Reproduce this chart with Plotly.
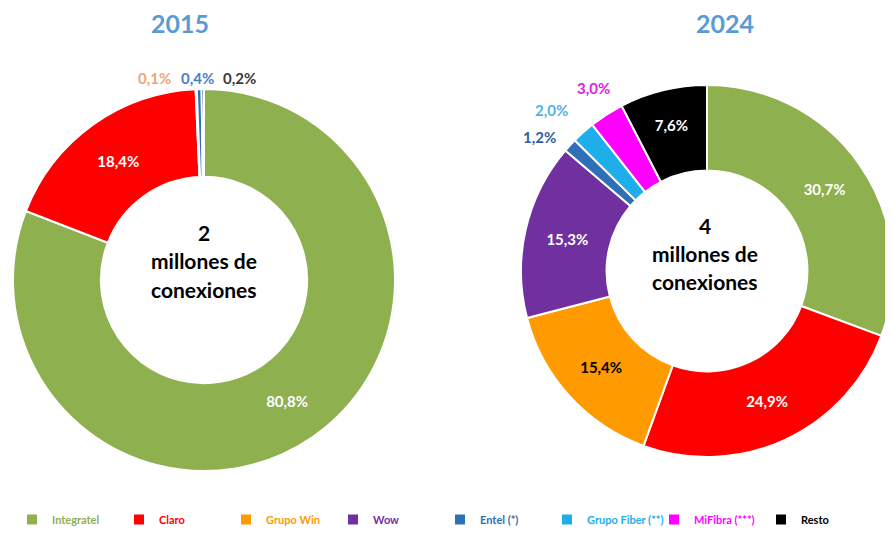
import plotly.graph_objects as go

categories = ["Integratel", "Claro", "Grupo Win", "Wow", "Entel (*)", "Grupo Fiber (**)", "MiFibra (***)", "Resto"]
colors = ["#8EB04F", "#FF0000", "#FF9A00", "#7030A0", "#2E6FB7", "#1EAEEA", "#FF00FF", "#000000"]

cats_2015 = ["Integratel", "Claro", "Grupo Win", "Entel (*)", "Resto"]
vals_2015 = [80.8, 18.4, 0.1, 0.4, 0.2]
vals_2024 = [30.7, 24.9, 15.4, 15.3, 1.2, 2.0, 3.0, 7.6]

years = ["2015", "2024"]
totals = ["2", "4"]
center_lines = ["millones de", "conexiones"]

FONT = "Lato"
W, H = 885, 526  # page body has an 8px margin
cmap = dict(zip(categories, colors))
small_label_colors = {"Grupo Win": "#F2A27A", "Entel (*)": "#4A7EC8", "Resto": "#3A3A3A",
                      "Wow": "#7030A0", "Grupo Fiber (**)": "#4FB3E8", "MiFibra (***)": "#E020E0",
                      "Integratel": "#8EB04F", "Claro": "#FF0000"}
small_label_colors_24 = dict(small_label_colors, **{"Entel (*)": "#2F5F9E"})


def px(x):
    return (x - 8) / W


def py(y):
    return 1 - (y - 8) / H


def lab(c):
    return f"<span style='color:{cmap[c]}'>{c}</span>"


def fmt(v):
    return f"{v:.1f}%".replace(".", ",")


fig = go.Figure()

# 2024 (first so the legend order follows its categories)
pos24 = ["inside" if v >= 5 else "none" for v in vals_2024]
txtcol24 = ["#000000" if c == "Grupo Win" else "#FFFFFF" for c in categories]
fig.add_trace(go.Pie(
    labels=[lab(c) for c in categories], values=vals_2024,
    marker=dict(colors=colors, line=dict(color="white", width=2)),
    hole=0.54, sort=False, direction="clockwise", rotation=0,
    domain=dict(x=[px(521), 1.0], y=[py(457), py(85)]),
    texttemplate="%{value:.1f}%", textposition=pos24,
    insidetextorientation="horizontal",
    insidetextfont=dict(color=txtcol24, size=15, family=FONT, weight="bold"),
    showlegend=True,
))

# 2015
pos15 = ["inside" if v >= 5 else "none" for v in vals_2015]
fig.add_trace(go.Pie(
    labels=[lab(c) for c in cats_2015], values=vals_2015,
    marker=dict(colors=[cmap[c] for c in cats_2015], line=dict(color="white", width=2)),
    hole=0.54, sort=False, direction="clockwise", rotation=0,
    domain=dict(x=[px(13), px(395)], y=[py(471), py(89)]),
    texttemplate="%{value:.1f}%", textposition=pos15,
    insidetextorientation="horizontal",
    insidetextfont=dict(color="white", size=15, family=FONT, weight="bold"),
    showlegend=True,
))

annotations = []
# year titles
for yr, xp in zip(years, [180, 725]):
    annotations.append(dict(text=f"<b>{yr}</b>", x=px(xp), y=py(23), xref="paper", yref="paper",
                            xanchor="center", yanchor="middle", showarrow=False,
                            font=dict(size=25, color="#5B9BD5", family=FONT)))
# center texts
for tot, cx, ys in zip(totals, [204, 705], [[232, 261, 289], [225, 253, 281]]):
    for txt, yy in zip([tot] + center_lines, ys):
        annotations.append(dict(text=f"<b>{txt}</b>", x=px(cx), y=py(yy), xref="paper", yref="paper",
                                xanchor="center", yanchor="middle", showarrow=False,
                                font=dict(size=21, color="#000000", family=FONT)))
# 2015 small-slice labels (side by side above the donut)
small15 = [(c, v) for c, v in zip(cats_2015, vals_2015) if v < 5]
for (c, v), (xx, yy) in zip(small15, [(154, 78), (197, 78), (239, 78)]):
    annotations.append(dict(text=f"<b>{fmt(v)}</b>", x=px(xx), y=py(yy),
                            xref="paper", yref="paper", xanchor="center", yanchor="middle", showarrow=False,
                            font=dict(size=15, color=small_label_colors[c], family=FONT)))
# 2024 small-slice labels
small24 = [(c, v) for c, v in zip(categories, vals_2024) if v < 5]
for (c, v), (xx, yy) in zip(small24, [(539, 137), (551, 110), (593, 88)]):
    annotations.append(dict(text=f"<b>{fmt(v)}</b>", x=px(xx), y=py(yy),
                            xref="paper", yref="paper", xanchor="center", yanchor="middle", showarrow=False,
                            font=dict(size=15, color=small_label_colors_24[c], family=FONT)))

fig.update_layout(
    width=W, height=H,
    margin=dict(l=0, r=0, t=0, b=0),
    paper_bgcolor="white", plot_bgcolor="white",
    separators=",.",
    annotations=annotations,
    legend=dict(orientation="h", x=px(12), xanchor="left", y=0.0, yanchor="bottom",
                entrywidth=62, entrywidthmode="pixels",
                font=dict(size=11, family=FONT, weight="bold"), traceorder="normal"),
)

fig.write_html("out.html")
